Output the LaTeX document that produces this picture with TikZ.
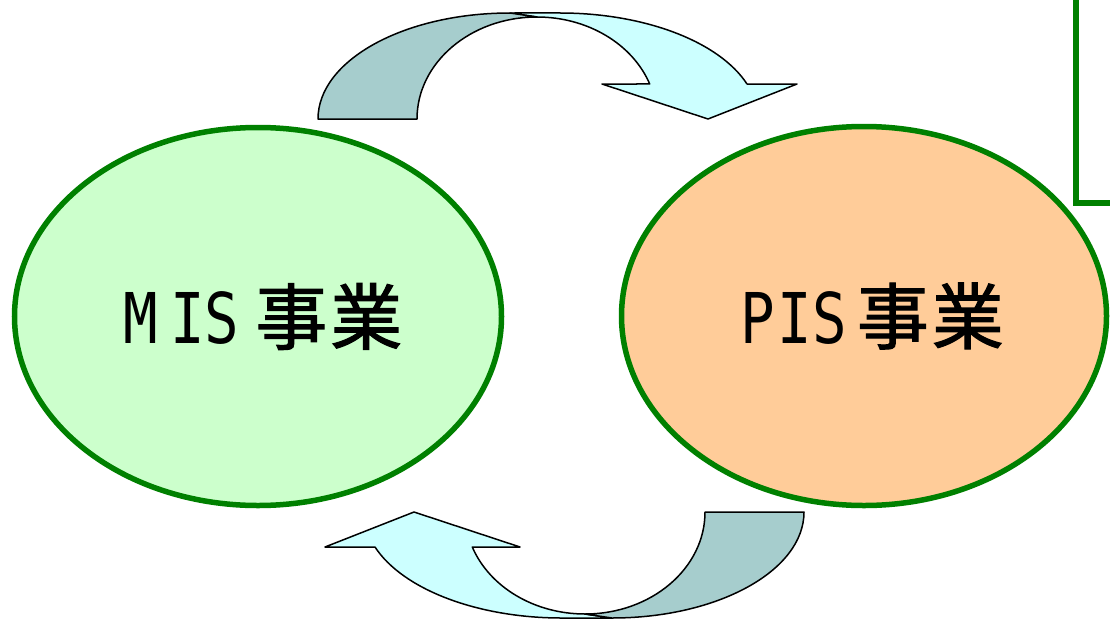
\documentclass[tikz,border=0pt]{standalone}
\usepackage{fontspec}
\newfontfamily\jpfont[FakeBold=1.5]{Noto Sans CJK JP}
\newfontfamily\latfont{DejaVu Sans Mono}
\usetikzlibrary{shapes.geometric}
\definecolor{ggreen}{RGB}{0,128,0}
\definecolor{misfill}{RGB}{204,255,204}
\definecolor{pisfill}{RGB}{255,204,153}
\definecolor{arrowlight}{RGB}{204,255,255}
\definecolor{arrowdark}{RGB}{166,205,205}
\newcommand\latch[1]{\scalebox{0.82}[1]{#1}}
% #1 lead shift, #2..#4 letters, #5 #6 gaps between letters, #7 gap before kanji
\newcommand\bizlabel[7]{\hspace{#1}{\latfont\fontsize{70}{70}\selectfont\latch{#2}\hspace{#5}\latch{#3}\hspace{#6}\latch{#4}}\hspace{#7}{\jpfont\fontsize{72}{72}\selectfont 事\hspace{3pt}業}}
\newcommand\cyclearrow{%
  \path[band, fill=arrowlight] (537,17)
    arc[start angle=270, end angle=339.93, x radius=120, y radius=102]
    -- (602,84) -- (708,119) -- (797,84) -- (747,84)
    arc[start angle=340.72, end angle=270, x radius=198, y radius=106]
    -- (510,13) -- cycle;
  \path[band, fill=arrowdark] (318,119)
    arc[start angle=180, end angle=270, x radius=192, y radius=106]
    -- (537,17)
    arc[start angle=270, end angle=180, x radius=120, y radius=102]
    -- cycle;}
\begin{document}
\begin{tikzpicture}[x=1pt,y=-1pt,
  bubble/.style={ellipse, draw=ggreen, line width=5.5pt, inner sep=0pt},
  band/.style={draw=black, line width=1.5pt, line join=round}]
\useasboundingbox (0,0) rectangle (1110,621);
\clip (0,0) rectangle (1110,621);
\cyclearrow
\begin{scope}[rotate around={180:(561,315.5)}]
\cyclearrow
\end{scope}
\node[bubble, fill=misfill, minimum width=487pt, minimum height=378pt] (mis) at (258,316.5) {\bizlabel{10pt}{M}{I}{S}{12pt}{0pt}{16pt}};
\node[bubble, fill=pisfill, minimum width=485pt, minimum height=379pt] (pis) at (864,316) {\bizlabel{16pt}{P}{I}{S}{3pt}{0pt}{10pt}};
\draw[ggreen, line width=6pt] (1076,-20) rectangle (1140,203);
\end{tikzpicture}
\end{document}
